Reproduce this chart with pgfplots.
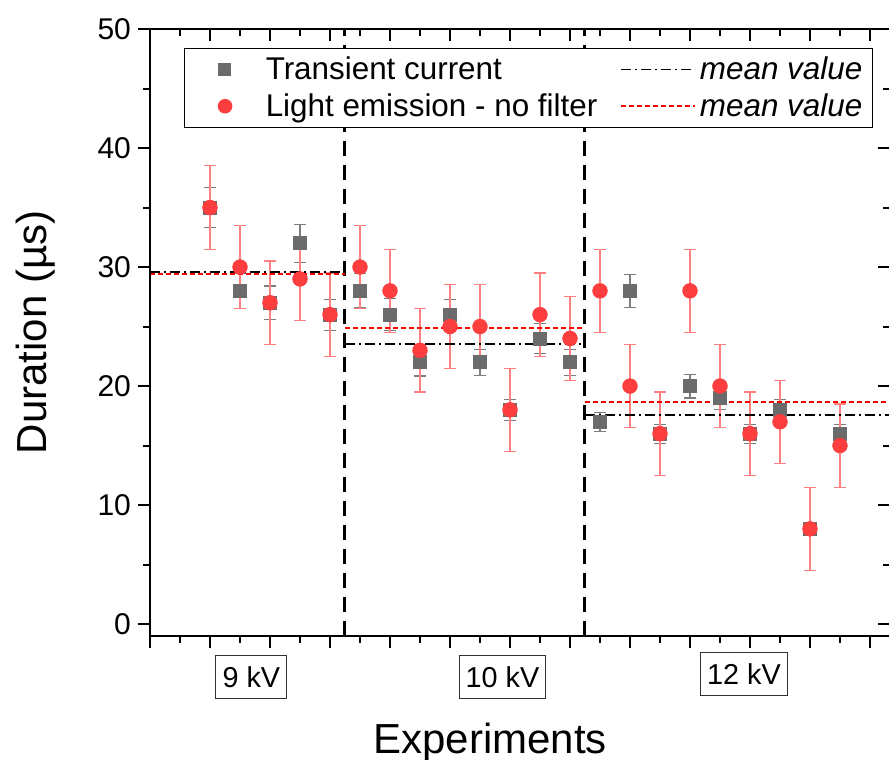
\documentclass[border=0pt]{standalone}
\usepackage{fontspec}
\setmainfont{Liberation Sans}
\usepackage{pgfplots}
\usepackage{pgfplotstable}
\pgfplotsset{compat=1.18}

\definecolor{tcgray}{RGB}{107,107,107}
\definecolor{tcerr}{RGB}{125,125,125}
\definecolor{lered}{RGB}{252,62,62}
\definecolor{leerr}{RGB}{255,128,128}
\definecolor{meanred}{RGB}{255,0,0}

% x  y  err
\pgfplotstableread{
x  y   e
2  35  1.7
3  28  1.5
4  27  1.4
5  32  1.6
6  26  1.3
7  28  1.45
8  26  1.35
9  22  1.15
10 26  1.3
11 22  1.1
12 18  0.9
13 24  1.25
14 22  1.1
15 17  0.8
16 28  1.4
17 16  0.8
18 20  1.0
19 19  0.95
20 16  0.8
21 18  0.9
22 8   0.4
23 16  0.8
}\transient

\pgfplotstableread{
x  y   e
2  35  3.5
3  30  3.5
4  27  3.5
5  29  3.5
6  26  3.5
7  30  3.5
8  28  3.5
9  23  3.5
10 25  3.5
11 25  3.5
12 18  3.5
13 26  3.5
14 24  3.5
15 28  3.5
16 20  3.5
17 16  3.5
18 28  3.5
19 20  3.5
20 16  3.5
21 17  3.5
22 8   3.5
23 15  3.5
}\light

\pgfplotsset{
  frame/.style={
    scale only axis, width=370pt, height=303.5pt,
    xmin=0, xmax=24.667, ymin=-1, ymax=50,
    xtick={0,2,...,24}, minor x tick num=1,
    ytick={0,10,...,50}, minor y tick num=1,
    major tick length=6pt, minor tick length=3.5pt,
    tick style={black, line width=1pt},
    axis line style={line width=1pt},
    clip=false,
  }
}

\begin{document}
\begin{tikzpicture}
\begin{axis}[frame,
    xtick pos=left, ytick pos=left, tick align=outside,
    xticklabels={},
    yticklabel style={font=\fontsize{15}{18}\selectfont},
    /pgf/number format/assume math mode=true,
    ylabel={Duration (µs)},
    xlabel={Experiments},
    ylabel style={at={(axis description cs:-0.127,0.5)}, anchor=south, inner sep=0pt, font=\fontsize{21}{25}\selectfont},
    xlabel style={at={(axis description cs:0.4595,0)}, anchor=north, yshift=-43.5pt, inner sep=0pt, font=\fontsize{21}{25}\selectfont},
    legend columns=2,
    legend cell align=left,
    legend style={at={(0.0459,0.9687)}, anchor=north west, draw=black, line width=0.6pt,
      inner xsep=3pt, inner ysep=2pt, font=\fontsize{15.7}{18}\selectfont,
      column sep=0pt, row sep=1.5pt,
      /tikz/every even column/.append style={column sep=9.5pt},
      nodes={inner sep=2pt, text depth=0.15em}},
  ]
  \coordinate (sw) at (rel axis cs:0,0);
  \coordinate (ne) at (rel axis cs:1,1);

  % legend
  \addlegendimage{legend image code/.code={
      \path (0pt,0pt) (35pt,0pt);
      \node[rectangle, fill=tcgray, inner sep=0pt, minimum size=6.5pt] at (13pt,0pt) {};}}
  \addlegendentry{Transient current}
  \addlegendimage{legend image code/.code={
      \draw[black, line width=0.8pt, dash pattern=on 5pt off 2pt on 1pt off 2pt] (0pt,0pt) -- (37pt,0pt);}}
  \addlegendentry{\textit{mean value}}
  \addlegendimage{legend image code/.code={
      \path (0pt,0pt) (35pt,0pt);
      \node[circle, fill=lered, inner sep=0pt, minimum size=7.3pt] at (13pt,0pt) {};}}
  \addlegendentry{Light emission - no filter}
  \addlegendimage{legend image code/.code={
      \draw[meanred, line width=0.8pt, dash pattern=on 2.5pt off 1.5pt] (0pt,0pt) -- (37pt,0pt);}}
  \addlegendentry{\textit{mean value}}

  % group separators
  \addplot[forget plot, black, line width=1.5pt, dash pattern=on 7.5pt off 4.5pt] coordinates {(6.5,-1) (6.5,50)};
  \addplot[forget plot, black, line width=1.5pt, dash pattern=on 7.5pt off 4.5pt] coordinates {(14.5,-1) (14.5,50)};

  % transient current
  \addplot[forget plot, only marks, mark=square*, mark size=3.25pt,
    mark options={fill=tcgray, draw=tcgray},
    error bars/.cd, y dir=both, y explicit,
    error bar style={tcerr, line width=0.6pt},
    error mark options={tcerr, line width=0.6pt, mark size=3.2pt, rotate=90}]
    table[x=x, y=y, y error=e] {\transient};

  % light emission
  \addplot[forget plot, only marks, mark=*, mark size=3.65pt,
    mark options={fill=lered, draw=lered},
    error bars/.cd, y dir=both, y explicit,
    error bar style={leerr, line width=0.6pt},
    error mark options={leerr, line width=0.6pt, mark size=3.2pt, rotate=90}]
    table[x=x, y=y, y error=e] {\light};

  % mean values
  \addplot[forget plot, black, line width=1pt, dash pattern=on 5pt off 2pt on 1pt off 2pt] coordinates {(0,29.6) (6.5,29.6)};
  \addplot[forget plot, black, line width=1pt, dash pattern=on 5pt off 2pt on 1pt off 2pt] coordinates {(6.5,23.5) (14.5,23.5)};
  \addplot[forget plot, black, line width=1pt, dash pattern=on 5pt off 2pt on 1pt off 2pt] coordinates {(14.5,17.56) (24.667,17.56)};
  \addplot[forget plot, meanred, line width=1pt, dash pattern=on 2.5pt off 1.5pt] coordinates {(0,29.4) (6.5,29.4)};
  \addplot[forget plot, meanred, line width=1pt, dash pattern=on 2.5pt off 1.5pt] coordinates {(6.5,24.875) (14.5,24.875)};
  \addplot[forget plot, meanred, line width=1pt, dash pattern=on 2.5pt off 1.5pt] coordinates {(14.5,18.67) (24.667,18.67)};

  % group labels
  \tikzset{kv/.style={draw=black!80, line width=0.5pt, anchor=north, inner xsep=3.3pt, inner ysep=0pt,
      minimum height=21.5pt, font=\fontsize{14.4}{17}\selectfont}}
  \node[kv] at (axis cs:3.38,-1) [yshift=-9.5pt] {9 kV};
  \node[kv] at (axis cs:11.75,-1) [yshift=-9.5pt] {10 kV};
  \node[kv] at (axis cs:19.8,-1) [yshift=-8pt] {12 kV};
\end{axis}

\begin{axis}[frame,
    xtick pos=right, ytick pos=right, tick align=inside,
    xticklabels={}, yticklabels={},
  ]
\end{axis}

\pgfresetboundingbox
\useasboundingbox ([shift={(-75pt,-62pt)}]sw) rectangle ([shift={(-0.5pt,14.5pt)}]ne);
\end{tikzpicture}
\end{document}
